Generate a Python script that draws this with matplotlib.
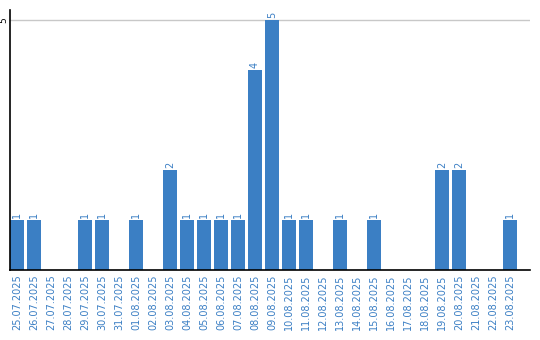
import matplotlib
matplotlib.use('Agg')
import matplotlib.pyplot as plt

dates = ['25.07.2025', '26.07.2025', '27.07.2025', '28.07.2025', '29.07.2025',
         '30.07.2025', '31.07.2025', '01.08.2025', '02.08.2025', '03.08.2025',
         '04.08.2025', '05.08.2025', '06.08.2025', '07.08.2025', '08.08.2025',
         '09.08.2025', '10.08.2025', '11.08.2025', '12.08.2025', '13.08.2025',
         '14.08.2025', '15.08.2025', '16.08.2025', '17.08.2025', '18.08.2025',
         '19.08.2025', '20.08.2025', '21.08.2025', '22.08.2025', '23.08.2025']
counts = [1, 1, 0, 0, 1, 1, 0, 1, 0, 2, 1, 1, 1, 1, 4, 5, 1, 1, 0, 1,
          0, 1, 0, 0, 0, 2, 2, 0, 0, 1]

BLUE = '#3b7fc4'

fig = plt.figure(figsize=(5.4, 3.4), dpi=100)
ax = fig.add_axes([10/540, 70/340, 520/540, 260/340])

x = list(range(len(dates)))
ax.bar(x, counts, width=0.82, color=BLUE, zorder=2)
for xi, v in zip(x, counts):
    if v > 0:
        ax.text(xi, v + 0.04, str(v), rotation=90, ha='center', va='bottom',
                fontsize=7, color=BLUE)

ax.set_xlim(-0.41, 30.18)
ax.set_ylim(0, 5.2)
ax.set_xticks(x)
ax.set_xticklabels(dates, rotation=90, fontsize=7, color=BLUE)
ax.set_yticks([5])
ax.set_yticklabels(['5'], rotation=90, fontsize=6.5, va='center')
ax.tick_params(axis='both', length=0, pad=3)
ax.tick_params(axis='y', pad=1)
ax.axhline(5, color='#c8c8c8', lw=1, zorder=1)

for s in ['top', 'right']:
    ax.spines[s].set_visible(False)
ax.spines['left'].set_linewidth(1.2)
ax.spines['bottom'].set_linewidth(1.2)

fig.savefig('out.png', dpi=100)
